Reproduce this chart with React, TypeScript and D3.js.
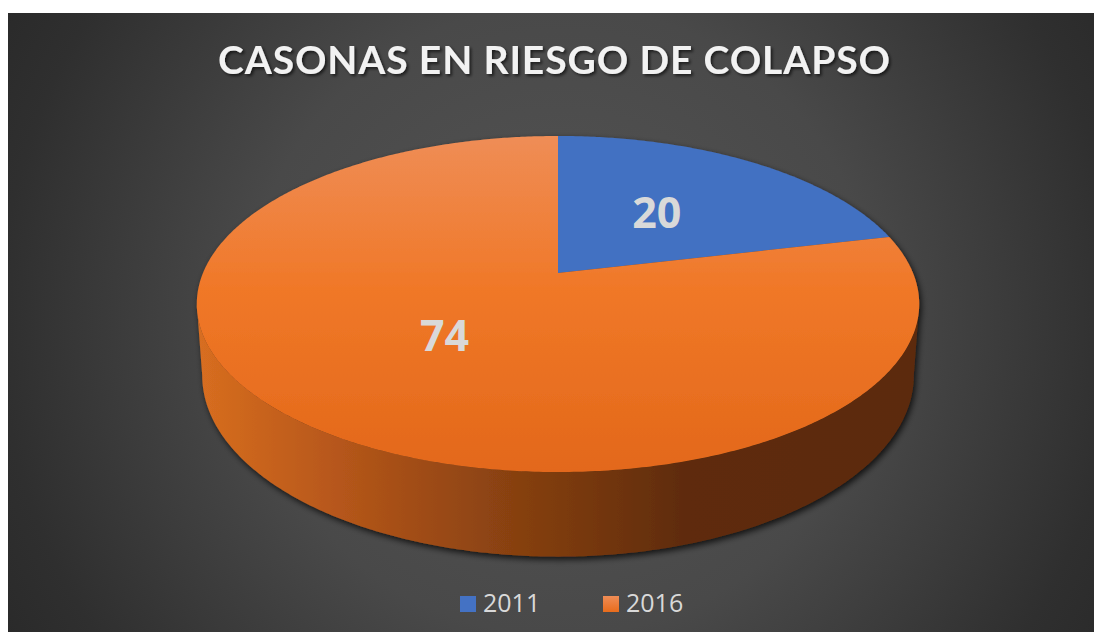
import React, { useMemo } from 'react';
import * as d3 from 'd3';

const categories = ['2011', '2016'];
const values = [20, 74];
const sliceColors = ['#4371c2', 'url(#topOrange)'];
const legendColors = ['#4472c4', 'url(#legendOrange)'];
const title = 'CASONAS EN RIESGO DE COLAPSO';

const W = 1094;
const H = 632;

// perspective-ish projection of the pie disc
const cx = 558;
const cy = 273;
const A = 355; // horizontal radius
const B = 162.3; // vertical radius
const persp = 0.1845;
const thick = 69;
const bottomShrink = 0.985;

const proj = (theta: number, r: number, bottom = false): [number, number] => {
  const u = Math.sin(theta) * r;
  const w = -Math.cos(theta) * r;
  const s = 1 / (1 - persp * w);
  if (!bottom) return [cx + A * u * s, cy + B * w * s];
  return [cx + A * u * s * bottomShrink, cy + B * w * s + thick * s];
};

const arcPoints = (a0: number, a1: number, r: number, bottom = false) => {
  const n = Math.max(2, Math.ceil(Math.abs(a1 - a0) / 0.01));
  return d3.range(n + 1).map(i => proj(a0 + ((a1 - a0) * i) / n, r, bottom));
};

const App = () => {
  const slices = useMemo(
    () => d3.pie<number>().sort(null).startAngle(0).endAngle(2 * Math.PI)(values),
    []
  );
  const line = d3.line();

  // visible side: between rightmost and leftmost points of the rim
  const aR = Math.acos(-persp);
  const aL = 2 * Math.PI - aR;
  const sidePts = [...arcPoints(aR, aL, 1), ...arcPoints(aR, aL, 1, true).reverse()];
  const sidePath = line(sidePts) + 'Z';

  const legendX = d3.scalePoint<string>().domain(categories).range([460, 603]);

  return (
    <svg width={W} height={H} style={{ position: 'absolute', left: 0, top: 0 }}>
      <defs>
        <radialGradient id="bg" gradientUnits="userSpaceOnUse" cx={560} cy={320} r={700}>
          <stop offset="0" stopColor="#555555" />
          <stop offset="0.45" stopColor="#494949" />
          <stop offset="0.8" stopColor="#2f2f2f" />
          <stop offset="1" stopColor="#262626" />
        </radialGradient>
        <linearGradient id="topOrange" gradientUnits="userSpaceOnUse" x1={0} y1={136} x2={0} y2={472}>
          <stop offset="0" stopColor="#ef8d56" />
          <stop offset="0.45" stopColor="#f07828" />
          <stop offset="1" stopColor="#e3681a" />
        </linearGradient>
        <linearGradient id="sideOrange" gradientUnits="userSpaceOnUse" x1={197} y1={0} x2={920} y2={0}>
          <stop offset="0" stopColor="#d86e20" />
          <stop offset="0.2" stopColor="#b5561a" />
          <stop offset="0.4" stopColor="#8e4412" />
          <stop offset="0.68" stopColor="#5e2b0b" />
          <stop offset="1" stopColor="#5c2a0b" />
        </linearGradient>
        <linearGradient id="legendOrange" x1="0" y1="0" x2="0" y2="1">
          <stop offset="0" stopColor="#ef8d56" />
          <stop offset="1" stopColor="#e86c1c" />
        </linearGradient>
        <filter id="pieShadow" x="-10%" y="-10%" width="120%" height="130%">
          <feDropShadow dx="2" dy="3" stdDeviation="3" floodColor="#000" floodOpacity="0.75" />
        </filter>
        <filter id="textShadow" x="-5%" y="-20%" width="110%" height="150%">
          <feDropShadow dx="2" dy="2" stdDeviation="1.5" floodColor="#000" floodOpacity="0.6" />
        </filter>
      </defs>

      <rect x={8} y={13} width={W - 8} height={H - 13} fill="url(#bg)" />

      <text
        x={554}
        y={74}
        textAnchor="middle"
        fontFamily="Lato, 'Open Sans', sans-serif"
        fontWeight="bold"
        fontSize={39}
        fill="#f2f2f2"
        textLength={672}
        lengthAdjust="spacing"
        filter="url(#textShadow)"
      >
        {title}
      </text>

      <g filter="url(#pieShadow)">
        <path d={sidePath} fill="url(#sideOrange)" />
        {slices.map((s, i) => (
          <path
            key={categories[i]}
            d={line([[cx, cy], ...arcPoints(s.startAngle, s.endAngle, 1)]) + 'Z'}
            fill={sliceColors[i]}
          />
        ))}
      </g>

      {slices.map((s, i) => {
        const [lx, ly] = proj((s.startAngle + s.endAngle) / 2, 0.48);
        return (
          <text
            key={'lbl' + i}
            x={lx}
            y={ly + 12}
            textAnchor="middle"
            fontFamily="'Open Sans', sans-serif"
            fontWeight="bold"
            fontSize={43}
            fill="#d9d9d9"
          >
            {s.data}
          </text>
        );
      })}

      {categories.map((c, i) => (
        <g key={'leg' + c} transform={`translate(${legendX(c)},596)`}>
          <rect width={16} height={16} fill={legendColors[i]} />
          <text
            x={23}
            y={16}
            fontFamily="'Open Sans', sans-serif"
            fontSize={25}
            fill="#d9d9d9"
          >
            {c}
          </text>
        </g>
      ))}
    </svg>
  );
};

export default App;
